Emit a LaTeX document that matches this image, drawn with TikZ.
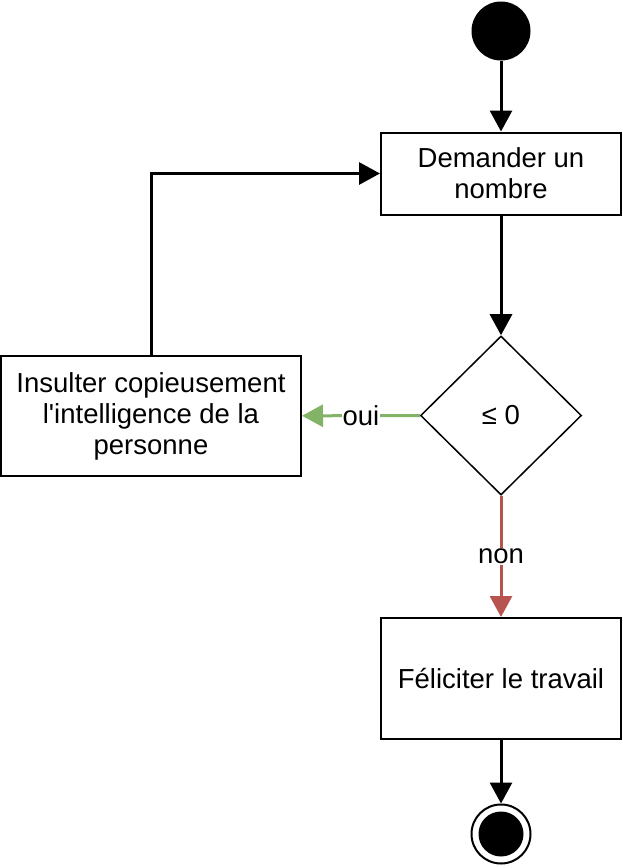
\documentclass[tikz,border=0pt]{standalone}
\usepackage{fontspec}
\setmainfont{Liberation Sans}
\usetikzlibrary{shapes.geometric,arrows.meta}
\definecolor{ouigreen}{HTML}{82B366}
\definecolor{nonred}{HTML}{B85450}
\begin{document}
\begin{tikzpicture}[x=1pt,y=-1pt,
  every node/.style={font=\fontsize{27.5}{31}\selectfont},
  box/.style={draw, line width=2pt, minimum width=240pt, inner sep=0pt, align=center},
  dia/.style={diamond, draw, line width=1.5pt, minimum width=161pt, minimum height=159pt, inner sep=0pt},
  flow/.style={line width=3pt, -{Triangle[length=21pt,width=22pt]}},
  lbl/.style={fill=white, inner sep=1pt}
]
\useasboundingbox (0,0) rectangle (622,868);
\node[circle, fill=black, minimum size=59pt, inner sep=0pt] (s) at (501,31) {};
\node[box, minimum height=82pt] (d) at (501,173.5) {Demander un\\nombre};
\node[dia] (q) at (501,415.5) {≤ 0};
\node[box, minimum width=300pt, minimum height=120pt] (i) at (151,416) {Insulter copieusement\\l\textquotesingle intelligence de la\\personne};
\node[box, minimum height=121pt] (f) at (501,678.5) {Féliciter le travail};
\node[circle, draw, line width=2pt, minimum size=59pt, inner sep=0pt] (e) at (501,834) {};
\fill (e.center) circle (22.5);

\draw[flow] (s) -- (d);
\draw[flow] (d) -- (q);
\draw[flow, ouigreen] (q) -- node[lbl, text=black] {oui} (i);
\draw[flow, nonred] (q) -- node[lbl, text=black] {non} (f);
\draw[flow] (i.north) |- (d.west);
\draw[flow] (f) -- (e);
\end{tikzpicture}
\end{document}
